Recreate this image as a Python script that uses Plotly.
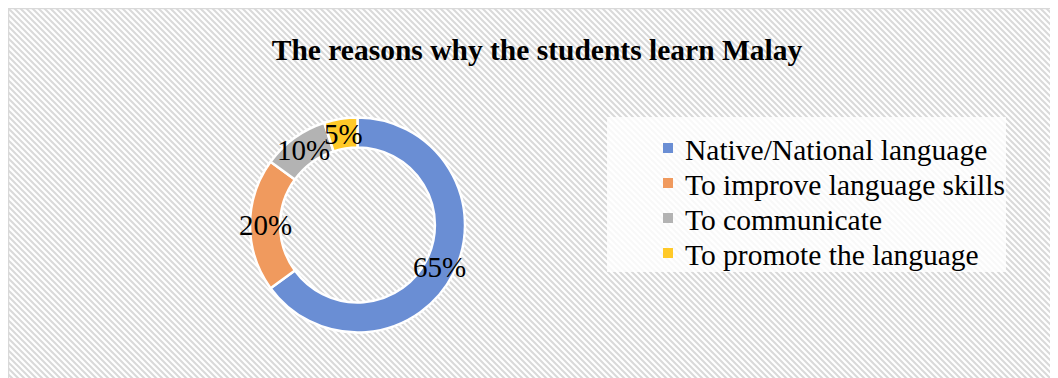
import base64
import math
import plotly.graph_objects as go

# ---- data ----
categories = ["Native/National language", "To improve language skills",
              "To communicate", "To promote the language"]
values = [65, 20, 10, 5]
title_text = "The reasons why the students learn Malay"

# ---- style ----
colors = ["#6A8ED4", "#F09A5E", "#B3B3B3", "#FFC928"]
W, H = 1058, 378          # figure starts at the page's 8px body margin; overflow is clipped
OFF = 8
FONT = "Liberation Serif, Times New Roman, serif"


def px(x):  # page pixel -> paper x
    return (x - OFF) / W


def py(y):  # page pixel -> paper y
    return 1 - (y - OFF) / H


# hatched background as an SVG pattern image
svg = (
    f'<svg xmlns="http://www.w3.org/2000/svg" width="{W}" height="{H}">'
    '<defs><pattern id="p" width="6" height="6" patternUnits="userSpaceOnUse">'
    '<rect width="6" height="6" fill="#ffffff"/>'
    '<path d="M-1,-1 L7,7 M-1,5 L1,7 M5,-1 L7,1" stroke="#d9d9d9" stroke-width="2"/>'
    '</pattern></defs>'
    f'<rect x="0" y="0" width="{W}" height="{H}" fill="url(#p)"/>'
    '</svg>'
)
src = "data:image/svg+xml;base64," + base64.b64encode(svg.encode()).decode()

# donut geometry (page px)
HOLE = 0.72
dom_x = [px(250), px(465)]
dom_y = [py(333), py(117)]
cx_pg, cy_pg = (250 + 465) / 2, (117 + 333) / 2
R = min(465 - 250, 333 - 117) / 2
r_mid = R * (1 + HOLE) / 2

fig = go.Figure(go.Pie(
    labels=categories,
    values=values,
    sort=False,
    direction="clockwise",
    rotation=0,
    hole=HOLE,
    marker=dict(colors=colors, line=dict(color="white", width=2.5)),
    textinfo="none",
    showlegend=False,
    domain=dict(x=dom_x, y=dom_y),
))

annotations = []
shapes = []

# percentage labels at the middle of each ring segment
total = sum(values)
cum = 0
for v in values:
    mid = (cum + v / 2) / total * 2 * math.pi
    cum += v
    lx = cx_pg + r_mid * math.sin(mid)
    ly = cy_pg - r_mid * math.cos(mid)
    annotations.append(dict(
        x=px(lx), y=py(ly), xref="paper", yref="paper", showarrow=False,
        text=f"{round(v / total * 100)}%", xanchor="center", yanchor="middle",
        font=dict(family=FONT, size=29, color="black")))

# legend (background box, markers and labels)
LEG_X_TEXT = 683
LEG_Y0 = 148
LEG_DY = 35
shapes.append(dict(type="rect", xref="paper", yref="paper",
                   x0=px(607), x1=px(1006), y0=py(272), y1=py(117),
                   fillcolor="rgba(255,255,255,0.8)", line=dict(width=0), layer="above"))
for i, (cat, col) in enumerate(zip(categories, colors)):
    yc = LEG_Y0 + i * LEG_DY
    shapes.append(dict(type="rect", xref="paper", yref="paper",
                       x0=px(663), x1=px(673), y0=py(yc + 5), y1=py(yc - 5),
                       fillcolor=col, line=dict(width=0), layer="above"))
    annotations.append(dict(
        x=px(LEG_X_TEXT), y=py(yc + 2), xref="paper", yref="paper", showarrow=False,
        text=cat, xanchor="left", yanchor="middle",
        font=dict(family=FONT, size=29.5, color="black")))

# frame lines (left and top edges)
shapes += [
    dict(type="line", xref="paper", yref="paper", x0=0.5 / W, x1=1, y0=1 - 0.5 / H, y1=1 - 0.5 / H,
         line=dict(color="#d9d9d9", width=1.5)),
    dict(type="line", xref="paper", yref="paper", x0=0.5 / W, x1=0.5 / W, y0=0, y1=1 - 0.5 / H,
         line=dict(color="#d9d9d9", width=1.5)),
]

fig.update_layout(
    width=W, height=H,
    margin=dict(l=0, r=0, t=0, b=0),
    paper_bgcolor="white",
    font=dict(family=FONT, color="black"),
    showlegend=False,
    title=dict(text="<b>" + title_text + "</b>", x=px(537), xanchor="center",
               y=py(50), yanchor="middle",
               font=dict(family=FONT, size=29.5, color="black")),
    images=[dict(source=src, xref="paper", yref="paper", x=0, y=1,
                 sizex=1, sizey=1, sizing="stretch", layer="below")],
    shapes=shapes,
    annotations=annotations,
)

fig.write_html(
    "out.html",
    post_script="document.documentElement.style.overflow='hidden';"
                "document.body.style.overflow='hidden';",
)
